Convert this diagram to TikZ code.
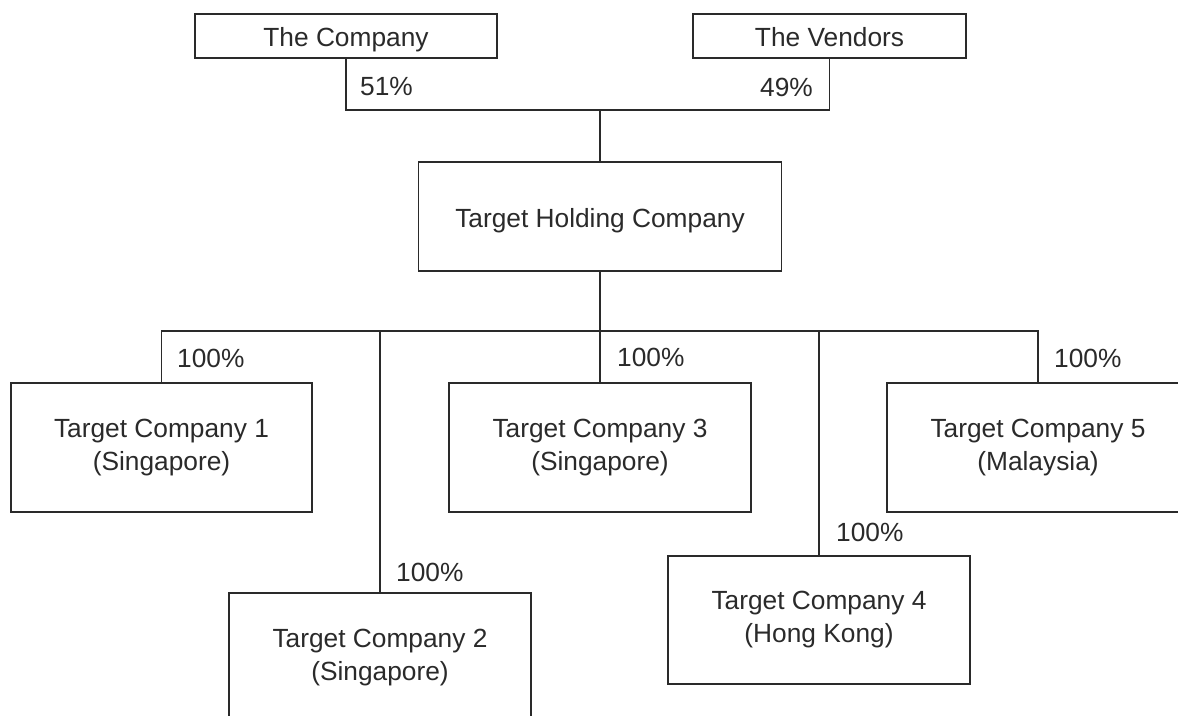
\documentclass[tikz,border=0pt]{standalone}
\usepackage{fontspec}
\setmainfont{Liberation Sans}
\definecolor{ink}{HTML}{2A2A2A}
\tikzset{
  box/.style={draw=ink, line width=1.3pt, rectangle, inner sep=0pt, align=center,
    text=ink, font=\fontsize{26.3}{33}\selectfont},
  oneline/.style={text height=25pt, text depth=4pt},
  pct/.style={anchor=west, inner sep=0pt, text=ink, font=\fontsize{26.3}{33}\selectfont},
  wire/.style={draw=ink, line width=1.3pt},
}
\begin{document}
\begin{tikzpicture}[x=1pt,y=-1pt]
\useasboundingbox (0,0) rectangle (1178,715);
\clip (0,0) rectangle (1178,715);
\fill[white] (0,0) rectangle (1178,715);
% top boxes
\node[box, oneline, minimum width=302pt, minimum height=44pt] (co) at (346,36) {The Company};
\node[box, oneline, minimum width=273pt, minimum height=44pt] (ve) at (829.5,36) {The Vendors};
\node[box, oneline, minimum width=363pt, minimum height=109pt] (hold) at (600,216.5) {Target Holding Company};
% subsidiaries
\node[box, minimum width=301pt, minimum height=129pt] (tc1) at (161.5,447.5) {Target Company 1\\(Singapore)};
\node[box, minimum width=302pt, minimum height=129pt] (tc2) at (380,657.5) {Target Company 2\\(Singapore)};
\node[box, minimum width=302pt, minimum height=129pt] (tc3) at (600,447.5) {Target Company 3\\(Singapore)};
\node[box, minimum width=302pt, minimum height=128pt] (tc4) at (819,620) {Target Company 4\\(Hong Kong)};
\node[box, minimum width=302pt, minimum height=129pt] (tc5) at (1038,447.5) {Target Company 5\\(Malaysia)};
% junctions
\coordinate (top) at (600,110);
\coordinate (bus) at (600,331);
% connectors
\draw[wire] (co.south) |- (top) -| (ve.south);
\draw[wire] (top) -- (hold.north);
\draw[wire] (hold.south) -- (bus);
\draw[wire] (tc1.north) |- (bus) -| (tc5.north);
\draw[wire] (bus) -- (tc3.north);
\draw[wire] (tc2.north) -- (tc2.north |- bus);
\draw[wire] (tc4.north) -- (tc4.north |- bus);
% percentages
\node[pct] (p51) at (360,87) {51\%};
\node[pct, anchor=east] (p49) at (813,87) {49\%};
\node[pct] (p1) at (177,358) {100\%};
\node[pct] (p3) at (617,357) {100\%};
\node[pct] (p5) at (1054,358) {100\%};
\node[pct] (p2) at (396,572) {100\%};
\node[pct] (p4) at (836,532) {100\%};
\end{tikzpicture}
\end{document}
